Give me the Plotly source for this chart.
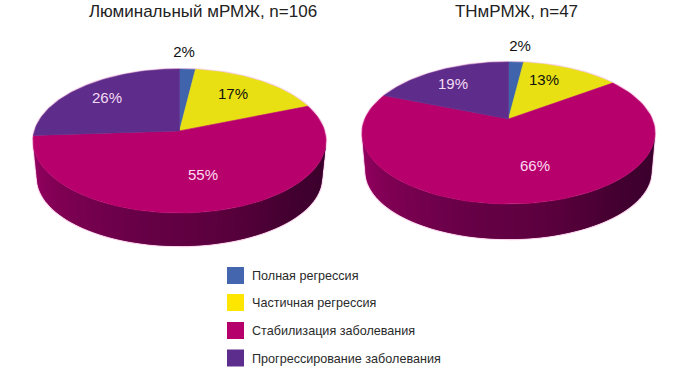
import numpy as np
import plotly.graph_objects as go

# Data
categories = ["Полная регрессия", "Частичная регрессия", "Стабилизация заболевания", "Прогрессирование заболевания"]
luminal_values = [2, 17, 55, 26]
tnbc_values = [2, 13, 66, 19]
titles = ["Люминальный мРМЖ, n=106", "ТНмРМЖ, n=47"]

# Style
slice_colors = ["#4064ac", "#e8e012", "#b8006c", "#5e2c8a"]
legend_colors = ["#4466ae", "#ffe600", "#b5006c", "#5c2d8c"]
label_colors = ["#111111", "#111111", "#fbdcf2", "#f3dcf5"]
halo_color = "rgba(240,170,215,0.55)"
wall_stops = [(0.0, (150, 0, 98)), (0.18, (128, 0, 84)), (0.42, (102, 0, 70)),
              (0.58, (92, 0, 62)), (0.78, (66, 0, 48)), (1.0, (58, 0, 44))]

# Geometry of the two perspective pies, in figure units
pies = [
    dict(values=luminal_values, cx=179.5, cy=141, rx=146.5, ry=72, apex=0.14,
         wall_cy=178, wall_rx=142.5, wall_ry=68,
         label_xy=[(184, 53), (233, 95), (203, 176.5), (107, 99)], title_xy=(203, 13)),
    dict(values=tnbc_values, cx=508.5, cy=133, rx=146.5, ry=71, apex=0.197,
         wall_cy=171.5, wall_rx=143, wall_ry=67.5,
         label_xy=[(520, 47), (544, 81), (535, 167.5), (453, 85)], title_xy=(516.5, 13)),
]
legend_x = 235.5
legend_text_x = 252
legend_y = [275.5, 302.5, 330.5, 358]
legend_text_y = [277, 303.5, 331.5, 359.5]


def wall_color(u):
    for (u0, c0), (u1, c1) in zip(wall_stops, wall_stops[1:]):
        if u <= u1:
            f = (u - u0) / (u1 - u0)
            c = [round(a + (b - a) * f) for a, b in zip(c0, c1)]
            return f"rgb({c[0]},{c[1]},{c[2]})"
    return "rgb(58,0,44)"


fig = go.Figure()
for p in pies:
    k = np.sqrt((1 - p["apex"]) / (1 + p["apex"]))
    # faint pale edge round the whole body
    top = np.linspace(np.pi * 1.5, np.pi * 2.5, 80)
    low = np.linspace(np.pi * 0.5, np.pi * 1.5, 80)
    hx = np.r_[p["cx"] + p["rx"] * np.sin(top), p["cx"] + p["wall_rx"] * np.sin(low)]
    hy = np.r_[p["cy"] - p["ry"] * np.cos(top), p["wall_cy"] - p["wall_ry"] * np.cos(low)]
    fig.add_trace(go.Scatter(x=np.r_[hx, hx[0]], y=np.r_[hy, hy[0]], mode="lines",
                             line=dict(color=halo_color, width=2.5), hoverinfo="skip", showlegend=False))
    # side wall: overlapping strips across the visible lower half, painted left to right
    n = 72
    edges = np.linspace(np.pi * 1.5, np.pi * 0.5, n + 1)
    for i in range(n):
        ts = np.linspace(edges[i], edges[min(i + 2, n)], 4)
        xt = p["cx"] + p["rx"] * np.sin(ts)
        yt = p["cy"] - p["ry"] * np.cos(ts)
        xb = p["cx"] + p["wall_rx"] * np.sin(ts[::-1])
        yb = p["wall_cy"] - p["wall_ry"] * np.cos(ts[::-1])
        col = wall_color(i / (n - 1))
        fig.add_trace(go.Scatter(x=np.r_[xt, xb, xt[0]], y=np.r_[yt, yb, yt[0]], mode="lines",
                                 fill="toself", fillcolor=col, line=dict(color=col, width=0),
                                 hoverinfo="skip", showlegend=False))
    # top face: slices from the values, through the perspective mapping
    shares = np.cumsum([0] + p["values"]) / sum(p["values"])
    ax, ay = p["cx"], p["cy"] - p["apex"] * p["ry"]
    for j, name in enumerate(categories):
        th = np.linspace(shares[j], shares[j + 1], 90) * 2 * np.pi
        t = 2 * np.arctan2(k * np.sin(th / 2), np.cos(th / 2))
        x = p["cx"] + p["rx"] * np.sin(t)
        y = p["cy"] - p["ry"] * np.cos(t)
        fig.add_trace(go.Scatter(x=np.r_[ax, x, ax], y=np.r_[ay, y, ay], mode="lines", fill="toself",
                                 fillcolor=slice_colors[j], line=dict(color=slice_colors[j], width=0.6),
                                 name=name, hoverinfo="skip", showlegend=False))
    # percentage labels
    fig.add_trace(go.Scatter(x=[q[0] for q in p["label_xy"]], y=[q[1] for q in p["label_xy"]],
                             mode="text", text=[f"{v}%" for v in p["values"]],
                             textposition="middle center",
                             textfont=dict(family="Liberation Sans", size=15, color=label_colors),
                             hoverinfo="skip", showlegend=False))

# Titles
fig.add_trace(go.Scatter(x=[p["title_xy"][0] for p in pies], y=[p["title_xy"][1] for p in pies],
                         mode="text", text=titles, textposition="middle center",
                         textfont=dict(family="Liberation Sans", size=17, color="#222222"),
                         hoverinfo="skip", showlegend=False))
# Legend
fig.add_trace(go.Scatter(x=[legend_x] * 4, y=legend_y, mode="markers",
                         marker=dict(symbol="square", size=17, color=legend_colors, line=dict(width=0)),
                         hoverinfo="skip", showlegend=False))
fig.add_trace(go.Scatter(x=[legend_text_x] * 4, y=legend_text_y, mode="text", text=categories,
                         textposition="middle right",
                         textfont=dict(family="Liberation Sans", size=12.6, color="#2a2a2a"),
                         hoverinfo="skip", showlegend=False))

fig.update_layout(width=681, height=369, margin=dict(l=0, r=0, t=0, b=0), autosize=False,
                  paper_bgcolor="white", plot_bgcolor="white", showlegend=False,
                  xaxis=dict(range=[0, 681], visible=False, fixedrange=True),
                  yaxis=dict(range=[369, 0], visible=False, fixedrange=True))
fig.write_html("out.html", config={"displayModeBar": False},
               post_script="document.body.style.margin='0';document.documentElement.style.overflow='hidden';")
